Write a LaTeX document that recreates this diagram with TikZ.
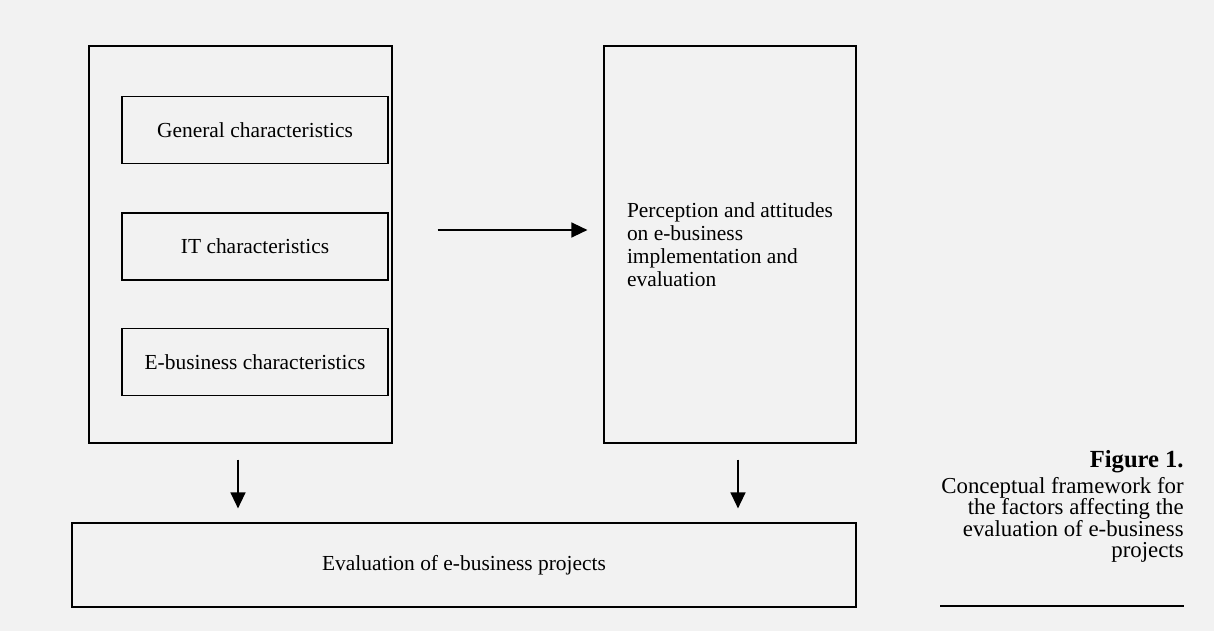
\documentclass[tikz,border=0pt]{standalone}
\usepackage{fontspec}
\setmainfont{Liberation Serif}
\usetikzlibrary{arrows.meta}

\begin{document}
\begin{tikzpicture}[x=0.02cm,y=-0.02cm]

        \fill[black!5] (0,0) rectangle (1214,631);
        \useasboundingbox (0,0) rectangle (1214,631);

        \begin{scope}[every node/.style={draw, line width=0.7pt, font=\fontsize{12.2}{13.2}\selectfont}]
          \node[minimum width=6.06cm, minimum height=7.94cm] (group) at (240.5,244.5) {};
          \node[minimum width=5.32cm, minimum height=1.34cm] (general) at (255,130) {General characteristics};
          \node[minimum width=5.32cm, minimum height=1.34cm] (it) at (255,246.5) {IT characteristics};
          \node[minimum width=5.32cm, minimum height=1.34cm] (ebus) at (255,362) {E-business characteristics};
          \node[minimum width=5.04cm, minimum height=7.94cm, align=left] (percep) at (730,244.5)
            {Perception and attitudes\\on e-business\\implementation and\\evaluation};
          \node[minimum width=15.68cm, minimum height=1.68cm] (eval) at (464,565) {Evaluation of e-business projects};
        \end{scope}

        \begin{scope}[every path/.style={draw, line width=0.8pt, -{Triangle[length=0.32cm,width=0.3cm]}}]
          \path[shorten <=0.9cm, shorten >=0.32cm] ([yshift=0.29cm]group.east) -- ([yshift=0.29cm]percep.west);
          \path[shorten <=0.32cm, shorten >=0.28cm] ([xshift=-0.05cm]group.south) -- ([xshift=-0.05cm]group.south |- eval.north);
          \path[shorten <=0.32cm, shorten >=0.28cm] ([xshift=0.16cm]percep.south) -- ([xshift=0.16cm]percep.south |- eval.north);
        \end{scope}

        \node[anchor=east, inner sep=0pt, font=\fontsize{14}{16}\selectfont\bfseries] (fig) at (1184,462) {Figure 1.};
        \node[anchor=north east, align=right, inner sep=0pt, font=\fontsize{13}{12.2}\selectfont] (cap) at (1184,477)
          {Conceptual framework for\\the factors affecting the\\evaluation of e-business\\projects};
        \draw[line width=0.8pt] (940,606) -- (1184,606);

      \end{tikzpicture}
\end{document}
